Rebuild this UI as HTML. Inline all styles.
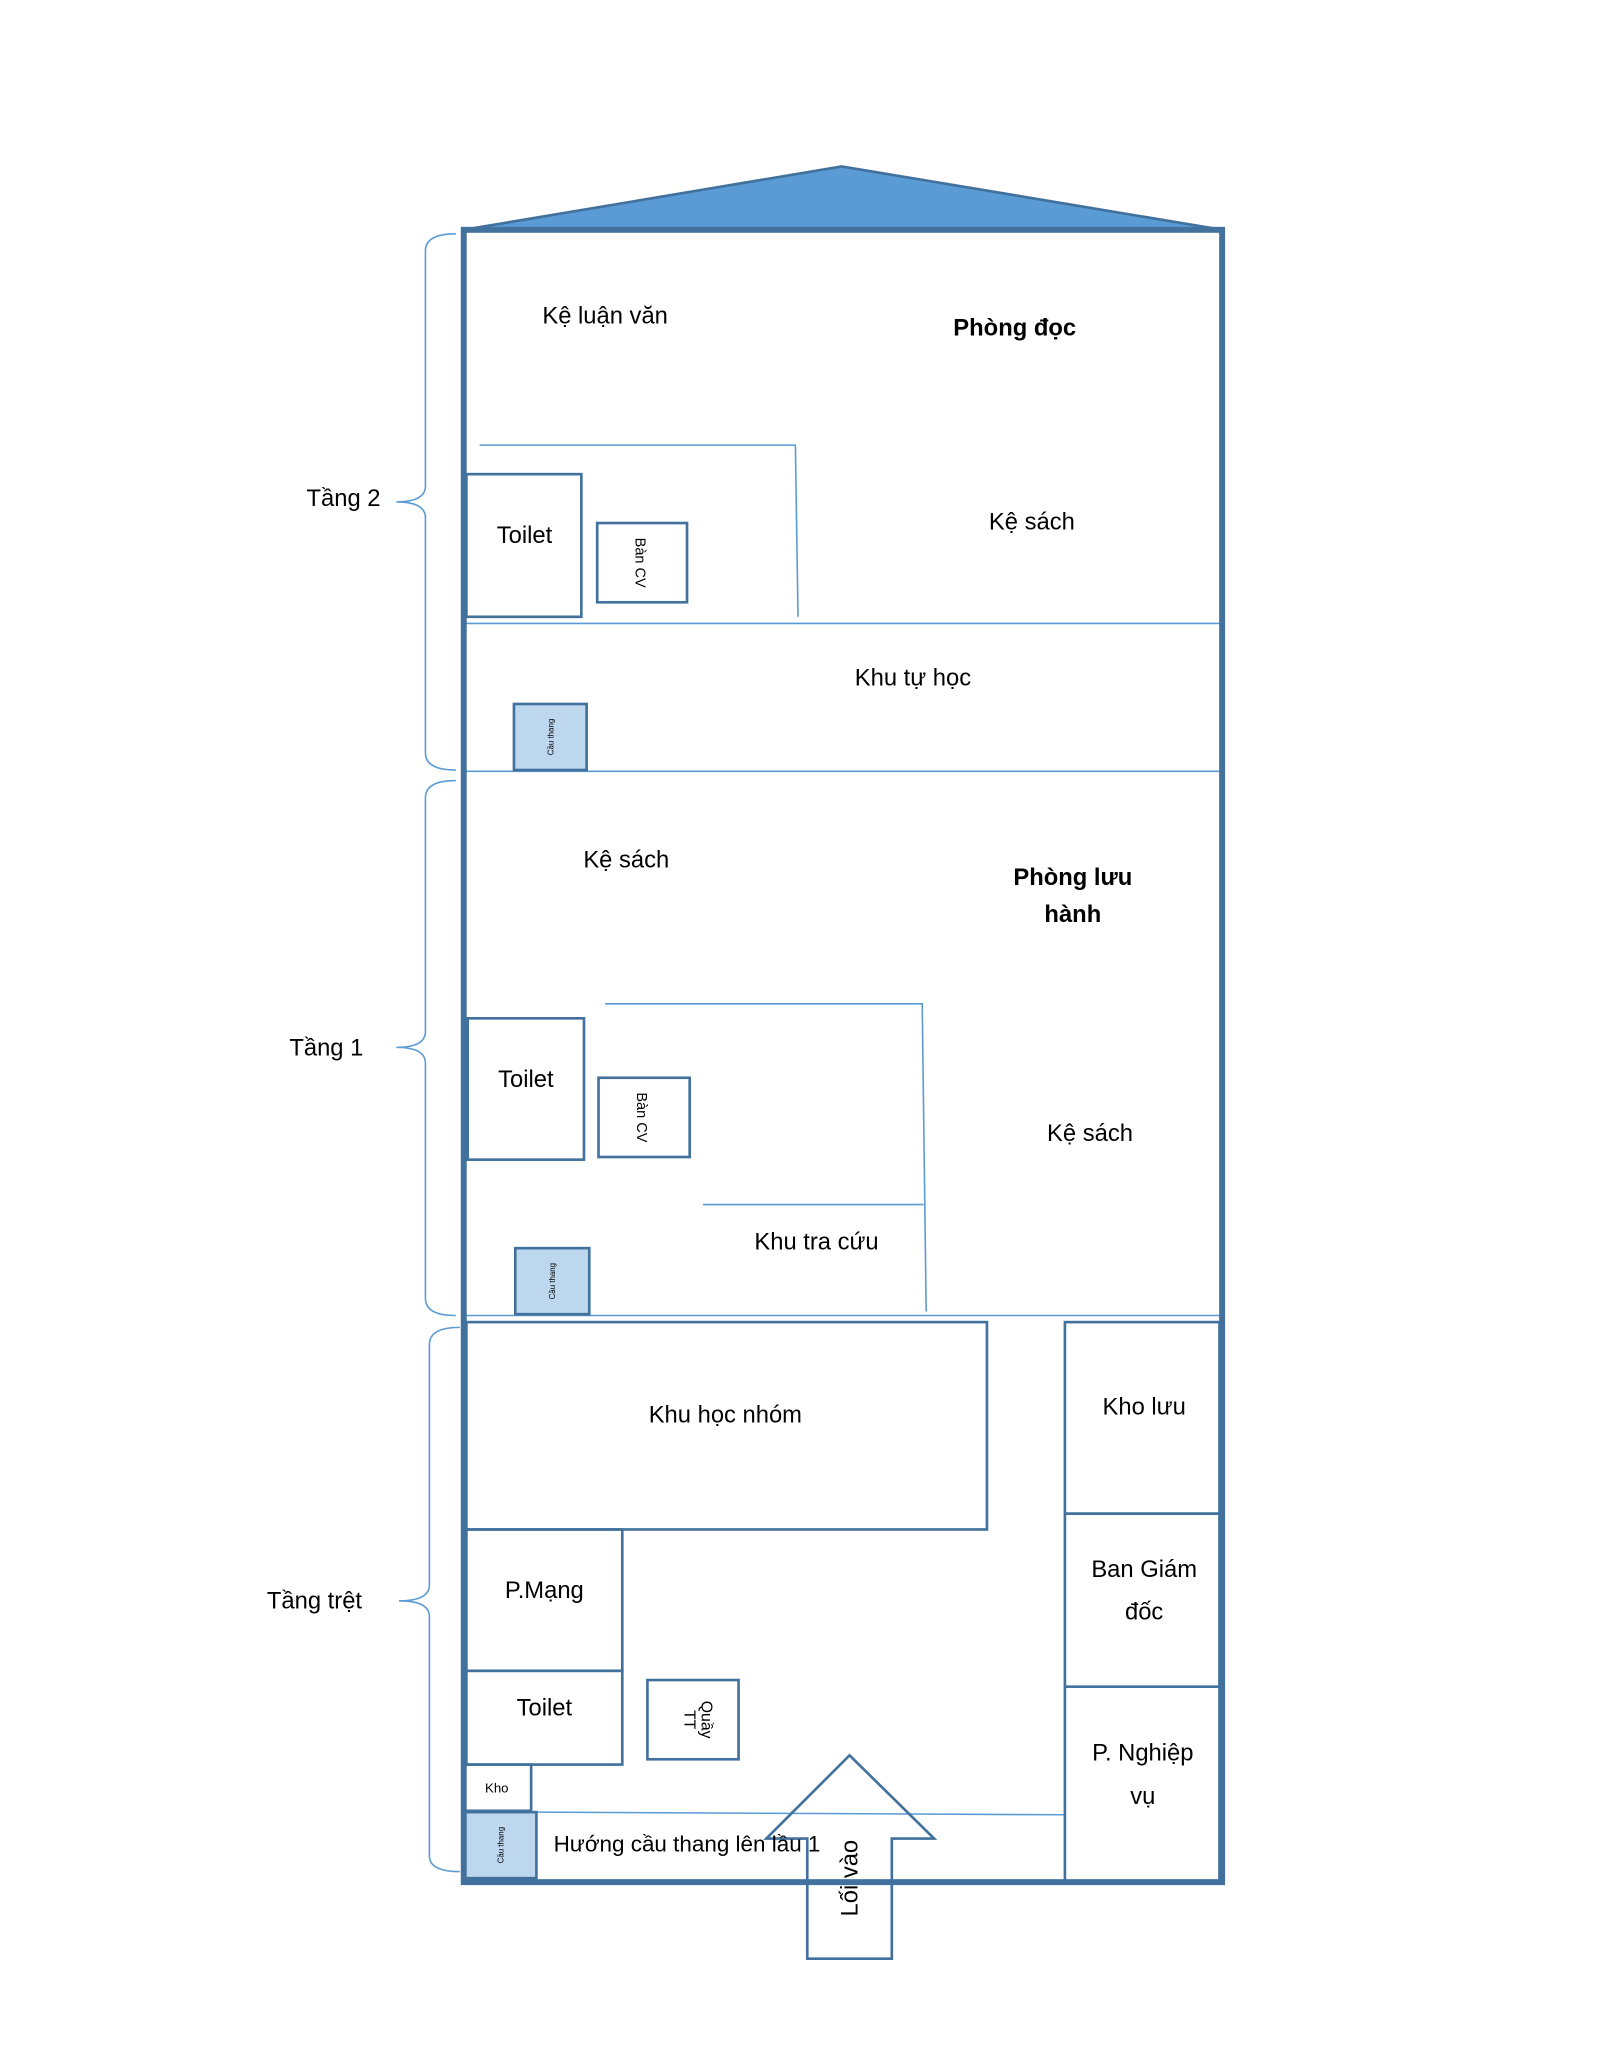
<!DOCTYPE html>
<html><head><meta charset="utf-8"><style>
html,body{margin:0;padding:0;background:#fff;}
svg{display:block;}
text{font-family:"Liberation Sans",sans-serif;fill:#000;}
</style></head><body>
<svg width="1600" height="2071" viewBox="0 0 1211 1568" preserveAspectRatio="none" xmlns="http://www.w3.org/2000/svg">
<polygon points="351,174 637,126 925,174" fill="#5b9bd5" stroke="#41719c" stroke-width="2"/>
<g fill="none" stroke="#5b9bd5" stroke-width="1.2">
<line x1="351" y1="472" x2="925" y2="472"/>
<line x1="351" y1="584" x2="925" y2="584"/>
<line x1="351" y1="996" x2="925" y2="996"/>
<polyline points="363,337 602,337 604,467"/>
<polyline points="458,760 698,760 701,993"/>
<line x1="532" y1="912" x2="699" y2="912"/>
<line x1="406" y1="1372" x2="806" y2="1374"/>
<path d="M345,177 Q322,177 322,190 L322,368 Q322,380 300,380 Q322,380 322,392 L322,570 Q322,583 345,583"/>
<path d="M345,591 Q322,591 322,604 L322,781 Q322,793 300,793 Q322,793 322,805 L322,983 Q322,996 345,996"/>
<path d="M348,1005 Q325,1005 325,1018 L325,1200 Q325,1212 302,1212 Q325,1212 325,1224 L325,1405 Q325,1417 348,1417"/>
</g>
<g fill="none" stroke="#41719c" stroke-width="2">
<rect x="353" y="359" width="87" height="108"/>
<rect x="452" y="396" width="68" height="60"/>
<rect x="354" y="771" width="88" height="107"/>
<rect x="453" y="816" width="69" height="60"/>
<rect x="353" y="1001" width="394" height="157"/>
<rect x="806" y="1001" width="117" height="424"/>
<line x1="806" y1="1146" x2="923" y2="1146"/>
<line x1="806" y1="1277" x2="923" y2="1277"/>
<rect x="353" y="1158" width="118" height="107"/>
<rect x="353" y="1265" width="118" height="71"/>
<rect x="490" y="1272" width="69" height="60"/>
<rect x="352" y="1336" width="50" height="35"/>
<polygon points="643,1329 707,1392 675,1392 675,1483 611,1483 611,1392 580,1392"/>
</g>
<g fill="#bdd7ee" stroke="#41719c" stroke-width="2">
<rect x="389" y="533" width="55" height="50"/>
<rect x="390" y="945" width="56" height="50"/>
<rect x="351" y="1372" width="55" height="50"/>
</g>
<rect x="351" y="174" width="574" height="1251" fill="none" stroke="#41719c" stroke-width="4.5"/>
<g font-size="18" text-anchor="middle">
<text x="458" y="245">Kệ luận văn</text>
<text x="768" y="254" font-weight="bold">Phòng đọc</text>
<text x="781" y="401">Kệ sách</text>
<text x="397" y="411">Toilet</text>
<text x="691" y="519">Khu tự học</text>
<text x="474" y="657">Kệ sách</text>
<text x="812" y="670" font-weight="bold">Phòng lưu</text>
<text x="812" y="698" font-weight="bold">hành</text>
<text x="398" y="823">Toilet</text>
<text x="825" y="864">Kệ sách</text>
<text x="618" y="946">Khu tra cứu</text>
<text x="549" y="1077">Khu học nhóm</text>
<text x="866" y="1071">Kho lưu</text>
<text x="866" y="1194">Ban Giám</text>
<text x="866" y="1226">đốc</text>
<text x="865" y="1333">P. Nghiệp</text>
<text x="865" y="1366">vụ</text>
<text x="412" y="1210">P.Mạng</text>
<text x="412" y="1299">Toilet</text>
<text x="260" y="383">Tầng 2</text>
<text x="247" y="799">Tầng 1</text>
<text x="238" y="1218">Tầng trệt</text>
</g>
<text x="419" y="1402" font-size="17">Hướng cầu thang lên lầu 1</text>
<text x="376" y="1357" font-size="10" text-anchor="middle">Kho</text>
<g text-anchor="middle">
<text transform="translate(481,426) rotate(90)" font-size="11">Bàn CV</text>
<text transform="translate(482,846) rotate(90)" font-size="11">Bàn CV</text>
<text transform="translate(531,1302) rotate(90)" font-size="12">Quầy</text>
<text transform="translate(518,1302) rotate(90)" font-size="12">TT</text>
<text transform="translate(419,558) rotate(-90)" font-size="6">Cầu thang</text>
<text transform="translate(420,970) rotate(-90)" font-size="6">Cầu thang</text>
<text transform="translate(381,1397) rotate(-90)" font-size="6">Cầu thang</text>
<text transform="translate(649,1422) rotate(-90)" font-size="18">Lối vào</text>
</g>
</svg>
</body></html>
